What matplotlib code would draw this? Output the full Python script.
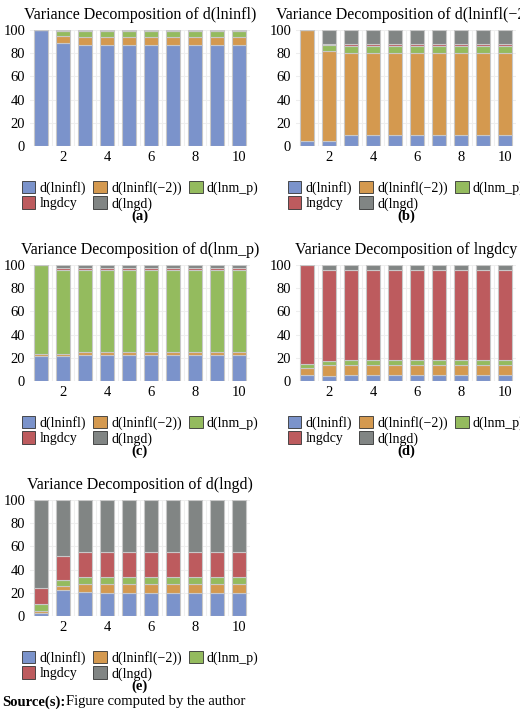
import numpy as np
import matplotlib
matplotlib.use("Agg")
import matplotlib.pyplot as plt
from matplotlib.patches import Patch

plt.rcParams["font.family"] = ["Liberation Serif", "DejaVu Serif"]

PERIODS = np.arange(1, 11)
SERIES = ["d(lninfl)", "d(lninfl(\u22122))", "d(lnm_p)", "lngdcy", "d(lngd)"]
COLORS = ["#7b93cb", "#d4994f", "#94bb5e", "#bd5b5e", "#818584"]


def rows(first, second, third, rest):
    return np.array([first, second, third] + [rest] * 7, dtype=float)


# columns: d(lninfl), d(lninfl(-2)), d(lnm_p), lngdcy, d(lngd)
DEC_A = rows([100, 0, 0, 0, 0], [88.5, 6, 4.5, 0.5, 0.5],
             [87.5, 6.5, 5, 0.5, 0.5], [87.5, 6.5, 5, 0.5, 0.5])
DEC_B = rows([4, 96, 0, 0, 0], [4, 77.5, 5.5, 1, 12],
             [9.5, 71, 5.5, 2, 12], [9.5, 70.5, 6, 2, 12])
DEC_C = rows([21.5, 2, 76.5, 0, 0], [21.5, 1.5, 73, 1, 3],
             [22.5, 2.5, 71, 1, 3], [22.5, 2.5, 71, 1, 3])
DEC_D = rows([5, 6.5, 3, 85.5, 0], [4, 10, 3.5, 78.5, 4],
             [5, 9, 4, 78, 4], [5, 9, 4.5, 77.5, 4])
DEC_E = rows([2.5, 1.5, 6, 14.5, 75.5], [22, 3.5, 5.5, 20.5, 48.5],
             [20.5, 7, 6, 21.5, 45], [19.5, 8, 6, 22, 44.5])

PANELS = [
    ("Variance Decomposition of d(lninfl)", DEC_A, "(a)"),
    ("Variance Decomposition of d(lninfl(\u22122))", DEC_B, "(b)"),
    ("Variance Decomposition of d(lnm_p)", DEC_C, "(c)"),
    ("Variance Decomposition of lngdcy", DEC_D, "(d)"),
    ("Variance Decomposition of d(lngd)", DEC_E, "(e)"),
]

W, H = 520, 714
fig = plt.figure(figsize=(W / 100, H / 100), dpi=100)

# pixel boxes (left, top of plot area)
pos = [(30, 30), (296, 30), (30, 265), (296, 265), (30, 500)]
pw, ph = 220, 116
# legend is filled row-wise in the reference
order = [0, 3, 1, 4, 2]

for (title, data, tag), (lx, ty) in zip(PANELS, pos):
    ax = fig.add_axes([lx / W, 1 - (ty + ph) / H, pw / W, ph / H])
    bottom = np.zeros(len(PERIODS))
    for j in range(5):
        ax.bar(PERIODS, data[:, j], bottom=bottom, width=0.65, color=COLORS[j],
               edgecolor="#c8c8c8", linewidth=0.8, zorder=3)
        bottom += data[:, j]
    ax.set_xlim(0.5, 10.5)
    ax.set_ylim(0, 100)
    ax.set_yticks(range(0, 101, 20))
    ax.set_xticks(range(2, 11, 2))
    ax.set_xticks(np.arange(1.5, 10.5, 1), minor=True)
    ax.grid(axis="y", color="#eeeeee", lw=0.8, zorder=0)
    ax.grid(axis="x", which="minor", color="#eeeeee", lw=0.8, zorder=0)
    ax.tick_params(length=0, labelsize=10.5, which="both")
    for s in ax.spines.values():
        s.set_visible(False)
    ax.set_title(title, fontsize=11.5, pad=8)
    cx = (lx + pw / 2) / W
    handles = [Patch(facecolor=COLORS[i], edgecolor="#333333", lw=0.6) for i in order]
    labels = [SERIES[i] for i in order]
    fig.legend(handles, labels, loc="upper center", ncol=3, frameon=False,
               bbox_to_anchor=(cx, 1 - (ty + ph + 28) / H), fontsize=10,
               handlelength=1.0, handleheight=1.0, handletextpad=0.3,
               columnspacing=0.5, labelspacing=0.1, borderpad=0)
    fig.text(cx, 1 - (ty + ph + 70) / H, tag, ha="center", va="center",
             fontsize=10.5, fontweight="bold")

src = fig.text(2 / W, 1 - 702 / H, "Source(s):", fontsize=10.5,
               fontweight="bold", va="center")
fig.text(66 / W, 1 - 702 / H, "Figure computed by the author",
         fontsize=10.5, va="center")

fig.savefig("out.png", dpi=100)
